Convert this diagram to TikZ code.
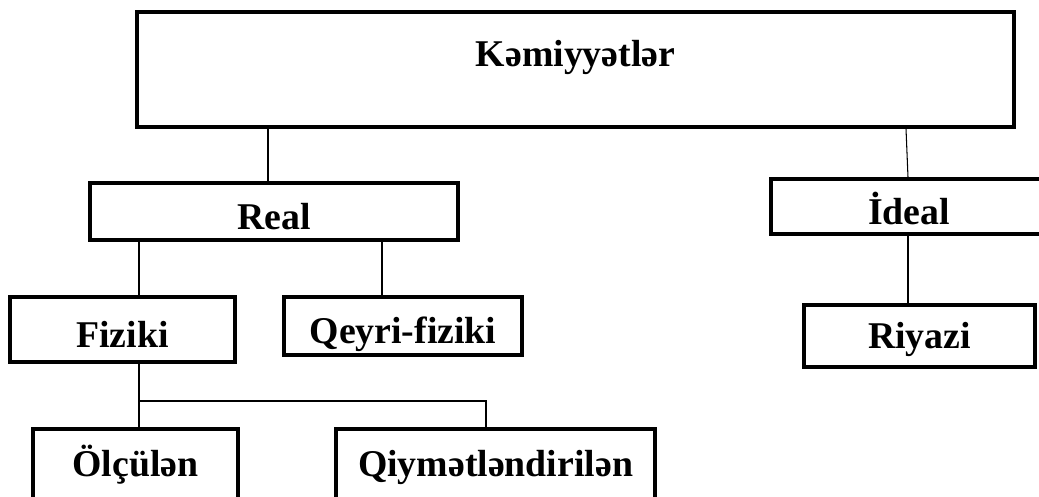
\documentclass[tikz,border=0pt]{standalone}
\usepackage{fontspec}
\setmainfont{Liberation Serif}
\usepackage{tikz}

\begin{document}
\begin{tikzpicture}[line width=0.6pt, node distance=2.5cm]
\tikzstyle{box}=[shape=rectangle, draw=black, line width=1.8pt, inner sep=0pt,
                 font=\fontsize{21.5}{26}\selectfont\bfseries,
                 text height=0.72cm, text depth=0pt]
\tikzstyle{link}=[draw=black, line width=0.6pt]
  \clip (0,0) rectangle (20.78,-9.94);
  \node[box, minimum width=17.54cm, minimum height=2.3cm,
        text height=0pt, text depth=0.12cm] (kem) at (11.51,-1.39) {Kəmiyyətlər};
  \node[box, minimum width=7.36cm, minimum height=1.14cm] (real)
        [below of=kem, node distance=2.84cm, xshift=-6.03cm] {Real};
  \node[box, minimum width=5.52cm, minimum height=1.1cm] (ideal)
        [below of=kem, node distance=2.74cm, xshift=6.67cm] {İdeal};
  \node[box, minimum width=4.5cm, minimum height=1.3cm] (fiziki)
        [below of=real, node distance=2.36cm, xshift=-3.03cm] {Fiziki};
  \node[box, minimum width=4.76cm, minimum height=1.16cm] (qeyri)
        [right of=fiziki, node distance=5.61cm, yshift=0.07cm] {Qeyri-fiziki};
  \node[box, minimum width=4.62cm, minimum height=1.24cm, text height=0.52cm] (riyazi)
        [below of=ideal, node distance=2.59cm, xshift=0.21cm] {Riyazi};
  \node[box, minimum width=4.1cm, minimum height=1.42cm, text height=0.5cm] (olculen)
        [below of=fiziki, node distance=2.7cm, xshift=0.26cm] {Ölçülən};
  \node[box, minimum width=6.38cm, minimum height=1.42cm, text height=0.5cm] (qiymet)
        [right of=olculen, node distance=7.2cm] {Qiymətləndirilən};
  \coordinate (fork) at (2.78,-8.02);
  \path[link] ([xshift=-0.12cm]real.north) edge ([xshift=-0.12cm]real.north |- kem.south);
  \path[link] ([xshift=-0.02cm]ideal.north) edge ([xshift=-0.06cm]ideal.north |- kem.south);
  \path[link] ([xshift=0.33cm]fiziki.north) edge ([xshift=0.33cm]fiziki.north |- real.south);
  \path[link] ([xshift=-0.42cm]qeyri.north) edge ([xshift=-0.42cm]qeyri.north |- real.south);
  \path[link] ([xshift=-0.23cm]riyazi.north) edge ([xshift=-0.23cm]riyazi.north |- ideal.south);
  \path[link] (fork |- fiziki.south) edge (fork |- olculen.north);
  \draw[link] (fork) -| ([xshift=-0.19cm]qiymet.north);
\end{tikzpicture}
\end{document}
